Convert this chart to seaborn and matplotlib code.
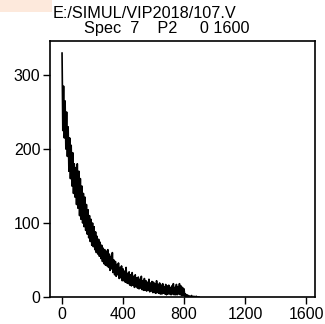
import matplotlib
matplotlib.use("Agg")
import matplotlib.pyplot as plt
import seaborn as sns
import pandas as pd
from matplotlib.patches import Rectangle

channels = list(range(0, 905, 5))
counts = [
    330, 225, 285, 215, 265, 200, 250, 190, 230, 170,
    215, 160, 205, 150, 195, 140, 180, 135, 175, 125,
    180, 120, 170, 110, 160, 105, 150, 100, 140, 95,
    135, 90, 125, 85, 118, 80, 110, 75, 105, 70,
    100, 68, 95, 64, 88, 60, 82, 58, 78, 55,
    74, 52, 70, 48, 66, 45, 64, 43, 62, 42,
    64, 40, 58, 36, 55, 38, 60, 33, 50, 30,
    48, 28, 44, 30, 46, 25, 40, 26, 42, 22,
    38, 22, 35, 20, 40, 19, 32, 18, 34, 16,
    30, 15, 33, 16, 28, 13, 30, 14, 26, 12,
    27, 11, 24, 12, 28, 10, 22, 9, 25, 9,
    22, 8, 20, 9, 24, 7, 19, 8, 21, 6,
    20, 6, 18, 5, 22, 6, 17, 5, 19, 4,
    16, 4, 18, 5, 14, 4, 17, 3, 15, 4,
    16, 4, 13, 3, 15, 4, 18, 3, 13, 3,
    17, 3, 14, 4, 18, 3, 15, 2, 13, 2,
    11, 1, 4, 1, 3, 0, 2, 0, 1, 0,
    2, 0, 0, 1, 0, 0, 1, 0, 0, 0,
    0,
]
n = min(len(channels), len(counts))
df = pd.DataFrame({"channel": channels[:n], "counts": counts[:n]})

x_ticks = [0, 400, 800, 1200, 1600]
y_ticks = [0, 100, 200, 300]
title_lines = ["E:/SIMUL/VIP2018/107.V", "Spec  7    P2     0 1600"]

sns.set_theme(style="ticks")
plt.rcParams["font.family"] = ["Liberation Sans", "DejaVu Sans"]

fig = plt.figure(figsize=(3.25, 3.24), dpi=100)
ax = fig.add_axes([50/325, 1 - 297/324, 265/325, 256/324])

sns.lineplot(data=df, x="channel", y="counts", color="black", linewidth=1.2, ax=ax)

ax.set_xlim(-79, 1659)
ax.set_ylim(0, 346)
ax.set_xticks(x_ticks)
ax.set_yticks(y_ticks)
ax.set_xlabel("")
ax.set_ylabel("")
ax.tick_params(direction="out", length=5, width=1, colors="black", labelsize=11.5, pad=2)
for s in ax.spines.values():
    s.set_visible(True)
    s.set_color("black")
    s.set_linewidth(1.2)

fig.text(145/325, 1 - 13/324, title_lines[0], ha="center", va="center", fontsize=11.7, color="black")
fig.text(167/325, 1 - 28/324, title_lines[1], ha="center", va="center", fontsize=11.7, color="black")

fig.patches.append(Rectangle((0, 1 - 12/324), 52/325, 12/324, transform=fig.transFigure,
                             facecolor="#fde9dc", edgecolor="none", zorder=-1))

fig.savefig("out.png", dpi=100)
